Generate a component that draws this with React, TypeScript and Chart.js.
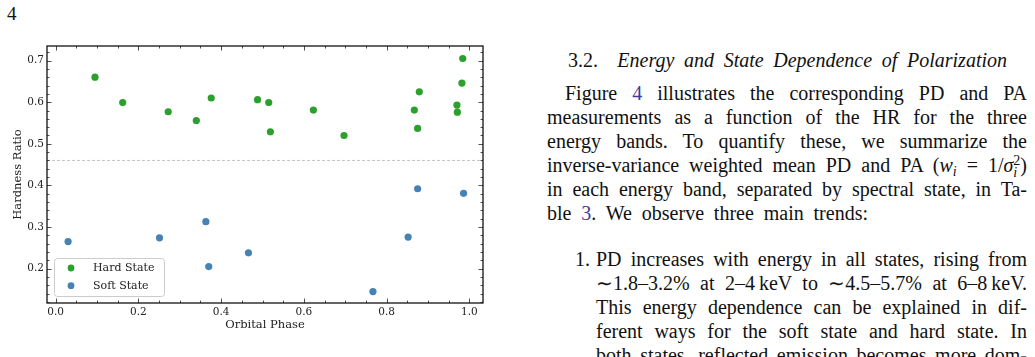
import React, { useEffect, useRef } from "react";
import { Chart, registerables } from "chart.js";

Chart.register(...registerables);

// ---------------- data ----------------
const hardPhase = [0.095, 0.162, 0.272, 0.340, 0.376, 0.488, 0.515, 0.519, 0.623, 0.697, 0.867, 0.879, 0.875, 0.970, 0.971, 0.982, 0.984];
const hardRatio = [0.660, 0.599, 0.577, 0.556, 0.610, 0.606, 0.599, 0.529, 0.581, 0.520, 0.581, 0.625, 0.537, 0.593, 0.576, 0.646, 0.705];
const softPhase = [0.030, 0.251, 0.363, 0.370, 0.466, 0.767, 0.852, 0.875, 0.986];
const softRatio = [0.265, 0.274, 0.313, 0.205, 0.238, 0.145, 0.276, 0.392, 0.381];
const stateThreshold = 0.46;
const seriesLabels = ["Hard State", "Soft State"];
const phaseTicks = [0.0, 0.2, 0.4, 0.6, 0.8, 1.0];
const ratioTicks = [0.2, 0.3, 0.4, 0.5, 0.6, 0.7];
const phaseRange = [-0.021, 1.033];
const ratioRange = [0.1175, 0.735];
const xTitle = "Orbital Phase";
const yTitle = "Hardness Ratio";

const HARD_COLOR = "#2ca02c";
const SOFT_COLOR = "#4682b4";
const SERIF = "'DejaVu Serif', serif";

const frameTicks = {
  id: "frameTicks",
  afterDatasetsDraw(chart: any) {
    const { ctx, chartArea: a, scales } = chart;
    const x = scales.x;
    const y = scales.y;
    ctx.save();
    ctx.strokeStyle = "#222";
    ctx.lineWidth = 0.8;
    const drawX = (v: number, len: number) => {
      const px = Math.round(x.getPixelForValue(v)) + 0.5;
      ctx.beginPath();
      ctx.moveTo(px, a.bottom);
      ctx.lineTo(px, a.bottom - len);
      ctx.moveTo(px, a.top);
      ctx.lineTo(px, a.top + len);
      ctx.stroke();
    };
    const drawY = (v: number, len: number) => {
      const py = Math.round(y.getPixelForValue(v)) + 0.5;
      ctx.beginPath();
      ctx.moveTo(a.left, py);
      ctx.lineTo(a.left + len, py);
      ctx.moveTo(a.right, py);
      ctx.lineTo(a.right - len, py);
      ctx.stroke();
    };
    for (let i = 0; i <= 20; i++) {
      const v = i * 0.05;
      if (i % 4 === 0) drawX(v, 4.5);
      else drawX(v, 2.5);
    }
    for (let i = 6; i <= 36; i++) {
      const v = i * 0.02;
      if (v < ratioRange[0] || v > ratioRange[1]) continue;
      if (i % 5 === 0) drawY(v, 4.5);
      else drawY(v, 2.5);
    }
    ctx.lineWidth = 1.3;
    ctx.strokeStyle = "#111";
    ctx.strokeRect(a.left, a.top, a.right - a.left, a.bottom - a.top);
    ctx.restore();
  },
};

const innerLegend = {
  id: "innerLegend",
  afterDatasetsDraw(chart: any) {
    const { ctx, chartArea: a } = chart;
    const ds = chart.data.datasets.filter((d: any) => d.showInLegend);
    const bx = a.left + 7.5;
    const by = a.bottom - 44.5;
    const bw = 110;
    const bh = 38;
    ctx.save();
    ctx.fillStyle = "rgba(255,255,255,0.85)";
    ctx.strokeStyle = "#cccccc";
    ctx.lineWidth = 1;
    ctx.beginPath();
    (ctx as any).roundRect(bx, by, bw, bh, 3);
    ctx.fill();
    ctx.stroke();
    ctx.font = `11px ${SERIF}`;
    ctx.textBaseline = "middle";
    ds.forEach((d: any, i: number) => {
      const cy = by + 9.5 + i * 17.7;
      ctx.fillStyle = d.backgroundColor;
      ctx.beginPath();
      ctx.arc(a.left + 24, cy, 3.4, 0, Math.PI * 2);
      ctx.fill();
      ctx.fillStyle = "#222";
      ctx.fillText(d.label, a.left + 46, cy + 0.5);
    });
    ctx.restore();
  },
};

function HRChart() {
  const ref = useRef<HTMLCanvasElement | null>(null);
  useEffect(() => {
    if (!ref.current) return;
    const chart = new Chart(ref.current, {
      type: "scatter",
      data: {
        datasets: [
          {
            label: seriesLabels[0],
            data: hardPhase.map((p, i) => ({ x: p, y: hardRatio[i] })),
            backgroundColor: HARD_COLOR,
            borderColor: HARD_COLOR,
            pointRadius: 3.6,
            borderWidth: 0,
            order: 1,
            showInLegend: true,
          } as any,
          {
            label: seriesLabels[1],
            data: softPhase.map((p, i) => ({ x: p, y: softRatio[i] })),
            backgroundColor: SOFT_COLOR,
            borderColor: SOFT_COLOR,
            pointRadius: 3.6,
            borderWidth: 0,
            order: 1,
            showInLegend: true,
          } as any,
          {
            type: "line",
            label: "threshold",
            data: [
              { x: phaseRange[0], y: stateThreshold },
              { x: phaseRange[1], y: stateThreshold },
            ],
            borderColor: "#b5b5b5",
            borderWidth: 0.8,
            borderDash: [3, 2],
            pointRadius: 0,
            fill: false,
            order: 10,
          } as any,
        ],
      },
      options: {
        animation: false,
        responsive: false,
        devicePixelRatio: 1,
        layout: { padding: { left: 0, top: 46, right: 37, bottom: 0 } },
        plugins: { legend: { display: false }, tooltip: { enabled: false } },
        scales: {
          x: {
            type: "linear",
            min: phaseRange[0],
            max: phaseRange[1],
            afterBuildTicks: (s: any) => {
              s.ticks = phaseTicks.map((v) => ({ value: v }));
            },
            afterFit: (s: any) => {
              s.height = 54;
            },
            grid: { display: false, drawTicks: false },
            border: { display: false },
            ticks: {
              padding: 3,
              color: "#222",
              font: { family: SERIF, size: 10.5 },
              maxRotation: 0,
              callback: (v: any) => Number(v).toFixed(1),
            },
            title: {
              display: true,
              text: xTitle,
              color: "#222",
              font: { family: SERIF, size: 11.5 },
              padding: { top: 0, bottom: 25 },
            },
          },
          y: {
            type: "linear",
            min: ratioRange[0],
            max: ratioRange[1],
            afterBuildTicks: (s: any) => {
              s.ticks = ratioTicks.map((v) => ({ value: v }));
            },
            afterFit: (s: any) => {
              s.width = 47;
            },
            grid: { display: false, drawTicks: false },
            border: { display: false },
            ticks: {
              padding: 3,
              color: "#222",
              font: { family: SERIF, size: 10.5 },
              callback: (v: any) => Number(v).toFixed(1),
            },
            title: {
              display: true,
              text: yTitle,
              color: "#222",
              font: { family: SERIF, size: 11.5 },
              padding: { top: 11, bottom: 0 },
            },
          },
        },
      },
      plugins: [frameTicks, innerLegend],
    });
    return () => chart.destroy();
  }, []);
  return (
    <canvas
      ref={ref}
      width={520}
      height={357}
      style={{ position: "absolute", left: 0, top: 0, width: 520, height: 357 }}
    />
  );
}

// ---------------- page text ----------------
const TF = "'Liberation Serif', serif";
const FS = 20;
const LH = 24;
const BASE_OFF = (LH - 1.107 * FS) / 2 + 0.891 * FS;
const LINK = "#3c3ca0";

function Line(props: { x: number; b: number; w: number; children: any; align?: string }) {
  const { x, b, w, children, align } = props;
  return (
    <div
      style={{
        position: "absolute",
        left: x,
        top: b - BASE_OFF,
        width: w,
        height: LH,
        lineHeight: `${LH}px`,
        fontSize: FS,
        fontFamily: TF,
        color: "#111",
        whiteSpace: "nowrap",
        textAlign: (align || "justify") as any,
        textAlignLast: (align || "justify") as any,
      }}
    >
      {children}
    </div>
  );
}

const Link = (p: { children: any }) => <span style={{ color: LINK }}>{p.children}</span>;

export default function App() {
  return (
    <div
      style={{
        position: "absolute",
        left: 0,
        top: 0,
        width: 1035,
        height: 357,
        overflow: "hidden",
        background: "#fff",
      }}
    >
      <div
        style={{
          position: "absolute",
          left: 7,
          top: 19.5 - 17,
          fontFamily: TF,
          fontSize: 19,
          lineHeight: "21px",
          color: "#111",
        }}
      >
        4
      </div>
      <HRChart />
      <Line x={568} b={67} w={439}>
        3.2.&nbsp; <i>Energy and State Dependence of Polarization</i>
      </Line>
      <Line x={565} b={100} w={462}>
        Figure <Link>4</Link> illustrates the corresponding PD and PA
      </Line>
      <Line x={547} b={124} w={480}>
        measurements as a function of the HR for the three
      </Line>
      <Line x={547} b={148} w={480}>
        energy bands. To quantify these, we summarize the
      </Line>
      <Line x={547} b={172} w={480}>
        inverse-variance weighted mean PD and PA (<i>w</i>
        <span style={{ fontSize: "0.7em", verticalAlign: "-4px", fontStyle: "italic" }}>i</span> = 1/<i>σ</i>
        <span
          style={{
            display: "inline-block",
            verticalAlign: "-5px",
            fontSize: "0.7em",
            lineHeight: "12px",
            textAlign: "left",
            textAlignLast: "left",
          }}
        >
          2<br />
          <i>i</i>
        </span>
        )
      </Line>
      <Line x={547} b={196} w={480}>
        in each energy band, separated by spectral state, in Ta-
      </Line>
      <Line x={547} b={220} w={321}>
        ble <Link>3</Link>. We observe three main trends:
      </Line>
      <Line x={555} b={266} w={35} align="right">
        1.
      </Line>
      <Line x={596} b={266} w={431}>
        PD increases with energy in all states, rising from
      </Line>
      <Line x={596} b={290} w={431}>
        ∼1.8–3.2% at 2–4&thinsp;keV to ∼4.5–5.7% at 6–8&thinsp;keV.
      </Line>
      <Line x={596} b={314} w={431}>
        This energy dependence can be explained in dif-
      </Line>
      <Line x={596} b={338} w={431}>
        ferent ways for the soft state and hard state. In
      </Line>
      <Line x={596} b={362} w={431}>
        both states, reflected emission becomes more dom-
      </Line>
    </div>
  );
}
